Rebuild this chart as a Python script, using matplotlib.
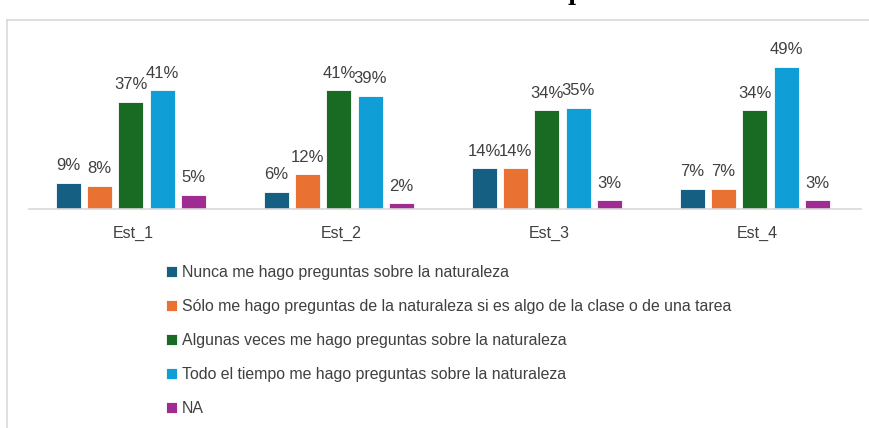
import matplotlib.pyplot as plt
import numpy as np

categories = ["Est_1", "Est_2", "Est_3", "Est_4"]
series_names = [
    "Nunca me hago preguntas sobre la naturaleza",
    "Sólo me hago preguntas de la naturaleza si es algo de la clase o de una tarea",
    "Algunas veces me hago preguntas sobre la naturaleza",
    "Todo el tiempo me hago preguntas sobre la naturaleza",
    "NA",
]
nunca = [9, 6, 14, 7]
solo = [8, 12, 14, 7]
algunas = [37, 41, 34, 34]
todo = [41, 39, 35, 49]
na = [5, 2, 3, 3]
colors = ["#156082", "#E97132", "#196B24", "#0F9ED5", "#A02B93"]

values = [nunca, solo, algunas, todo, na]

fig = plt.figure(figsize=(8.7, 4.28), dpi=100)
ax = fig.add_axes([29 / 870, 1 - 209 / 428, 832 / 870, 158 / 428])

x = np.arange(len(categories))
pitch = 0.151
width = 0.12
handles = []
for i, (vals, name, col) in enumerate(zip(values, series_names, colors)):
    pos = x + (i - 2) * pitch - 0.01
    b = ax.bar(pos, vals, width, color=col, edgecolor="white", linewidth=0.6, label=name)
    handles.append(b)
    for px, v in zip(pos, vals):
        ax.text(px, v + 3.3, f"{v}%", ha="center", va="bottom",
                fontsize=12, color="#404040", family="Liberation Sans")

ax.set_xlim(-0.5, 3.5)
ax.set_ylim(0, 54.5)
ax.set_xticks(x)
ax.set_xticklabels(categories, fontsize=11.5, color="#404040", family="Liberation Sans")
ax.tick_params(axis="x", length=0, pad=12)
ax.set_yticks([])
for s in ["top", "right", "left"]:
    ax.spines[s].set_visible(False)
ax.spines["bottom"].set_color("#d9d9d9")
ax.spines["bottom"].set_linewidth(1.2)

fig.legend(handles=handles, loc="upper left", bbox_to_anchor=(160 / 870, 1 - 259 / 428),
           frameon=False, handlelength=0.7, handleheight=0.7, handletextpad=0.3,
           labelspacing=1.2, borderaxespad=0,
           prop={"family": "Liberation Sans", "size": 11.4},
           labelcolor="#404040")

# chart frame and the cut-off title at the top
fig.add_artist(plt.Line2D([7 / 870, 1], [1 - 20 / 428, 1 - 20 / 428], color="#d9d9d9", lw=1.2))
fig.add_artist(plt.Line2D([7 / 870, 7 / 870], [0, 1 - 20 / 428], color="#d9d9d9", lw=1.2))
fig.text(575 / 870, 1 + 6 / 428, "p", ha="center", va="center", fontsize=16,
         fontweight="bold", family="DejaVu Serif", color="black")

fig.savefig("out.png", dpi=100)
